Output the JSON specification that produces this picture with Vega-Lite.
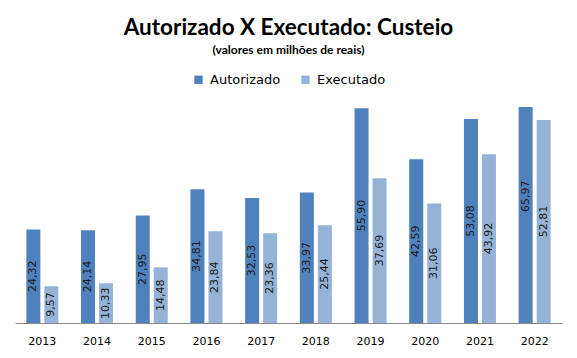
{
  "$schema": "https://vega.github.io/schema/vega-lite/v6.json",
  "autosize": "none",
  "width": 547,
  "height": 216,
  "padding": {"left": 15, "top": 107, "right": 15, "bottom": 35},
  "background": "white",
  "title": {
    "text": "Autorizado X Executado: Custeio",
    "subtitle": "(valores em milhões de reais)",
    "anchor": "middle",
    "font": "Lato",
    "fontSize": 22.5,
    "fontWeight": "bold",
    "color": "#000000",
    "subtitleFont": "Lato",
    "subtitleFontSize": 12,
    "subtitleFontWeight": "bold",
    "subtitleColor": "#000000",
    "subtitlePadding": 6,
    "offset": 17
  },
  "data": {
    "values": [
      {"ano": "2013", "serie": "Autorizado", "valor": 24.32},
      {"ano": "2013", "serie": "Executado", "valor": 9.57},
      {"ano": "2014", "serie": "Autorizado", "valor": 24.14},
      {"ano": "2014", "serie": "Executado", "valor": 10.33},
      {"ano": "2015", "serie": "Autorizado", "valor": 27.95},
      {"ano": "2015", "serie": "Executado", "valor": 14.48},
      {"ano": "2016", "serie": "Autorizado", "valor": 34.81},
      {"ano": "2016", "serie": "Executado", "valor": 23.84},
      {"ano": "2017", "serie": "Autorizado", "valor": 32.53},
      {"ano": "2017", "serie": "Executado", "valor": 23.36},
      {"ano": "2018", "serie": "Autorizado", "valor": 33.97},
      {"ano": "2018", "serie": "Executado", "valor": 25.44},
      {"ano": "2019", "serie": "Autorizado", "valor": 55.90},
      {"ano": "2019", "serie": "Executado", "valor": 37.69},
      {"ano": "2020", "serie": "Autorizado", "valor": 42.59},
      {"ano": "2020", "serie": "Executado", "valor": 31.06},
      {"ano": "2021", "serie": "Autorizado", "valor": 53.08},
      {"ano": "2021", "serie": "Executado", "valor": 43.92},
      {"ano": "2022", "serie": "Autorizado", "valor": 65.97},
      {"ano": "2022", "serie": "Executado", "valor": 52.81}
    ]
  },
  "transform": [{"calculate": "datum.valor / 2", "as": "meio"}],
  "encoding": {
    "x": {
      "field": "ano",
      "type": "nominal",
      "scale": {"paddingInner": 0.4146, "paddingOuter": 0.2073},
      "axis": {
        "title": null,
        "labelAngle": 0,
        "labelFont": "DejaVu Sans",
        "labelFontSize": 11,
        "labelColor": "#000000",
        "labelPadding": 12,
        "ticks": false,
        "domainColor": "#888888",
        "domainWidth": 1,
        "grid": false
      }
    },
    "xOffset": {
      "field": "serie",
      "type": "nominal",
      "sort": ["Autorizado", "Executado"],
      "scale": {"paddingInner": 0.2222, "paddingOuter": 0}
    }
  },
  "layer": [
    {
      "mark": {"type": "bar"},
      "encoding": {
        "y": {
          "field": "valor",
          "type": "quantitative",
          "scale": {"domain": [0, 56.2], "clamp": true, "nice": false, "zero": true},
          "axis": null
        },
        "color": {
          "field": "serie",
          "type": "nominal",
          "sort": ["Autorizado", "Executado"],
          "scale": {"domain": ["Autorizado", "Executado"], "range": ["#4F81BD", "#95B3D7"]},
          "legend": {
            "title": null,
            "orient": "top",
            "direction": "horizontal",
            "symbolType": "square",
            "symbolSize": 70,
            "symbolStrokeWidth": 0,
            "labelFont": "DejaVu Sans",
            "labelFontSize": 13,
            "labelColor": "#000000",
            "labelOffset": 5,
            "columnPadding": 18,
            "offset": 20
          }
        }
      }
    },
    {
      "mark": {"type": "text", "angle": 270, "align": "center", "baseline": "middle", "font": "DejaVu Sans", "fontSize": 11, "color": "#1a1a1a"},
      "encoding": {
        "y": {"field": "meio", "type": "quantitative"},
        "text": {"field": "valor", "type": "quantitative", "format": ".2f"}
      }
    }
  ],
  "config": {
    "view": {"stroke": null},
    "legend": {"layout": {"top": {"anchor": "middle"}}},
    "locale": {"number": {"decimal": ",", "thousands": ".", "grouping": [3], "currency": ["R$", ""]}}
  }
}
